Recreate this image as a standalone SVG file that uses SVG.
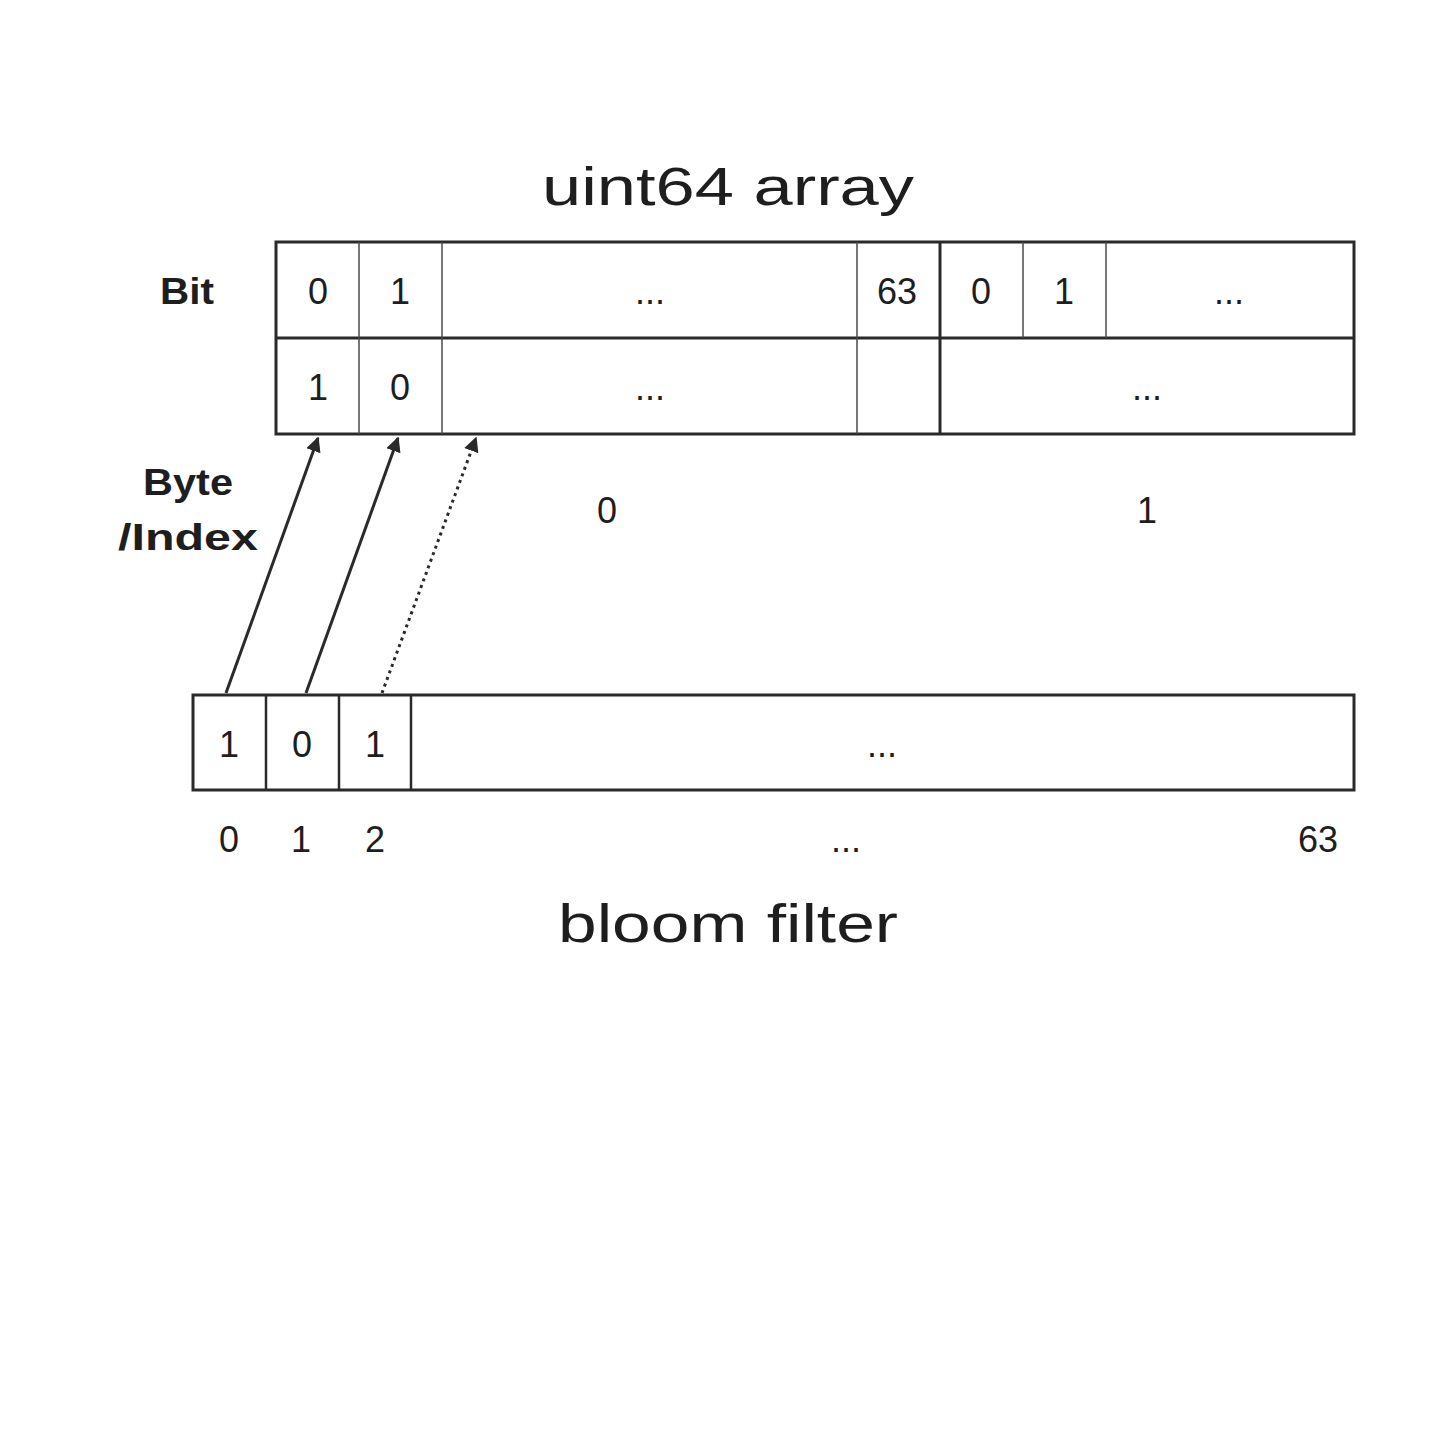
<svg xmlns="http://www.w3.org/2000/svg" width="1456" height="1456" viewBox="0 0 1456 1456">
<defs>
<style>
.t{font-family:"Liberation Sans","Noto Sans",sans-serif;fill:#1e1e1e;text-anchor:middle;}
.n{font-size:36px;}
.b{font-weight:bold;font-size:36px;}
.h{font-size:54px;}
.thick{stroke:#2a2a2a;stroke-width:3;fill:none;}
.thin{stroke:#4a4a4a;stroke-width:1.5;fill:none;}
.mid{stroke:#2a2a2a;stroke-width:2.5;fill:none;}
.arr{stroke:#2a2a2a;stroke-width:3;fill:none;}
</style>
<marker id="ah" viewBox="0 0 10 10" refX="9" refY="5" markerWidth="5" markerHeight="5" orient="auto" markerUnits="strokeWidth">
<path d="M0,0 L10,5 L0,10 z" fill="#2a2a2a"/>
</marker>
</defs>
<rect width="1456" height="1456" fill="#ffffff"/>

<g id="title-top"><text class="t h" x="728" y="205" textLength="372" lengthAdjust="spacingAndGlyphs">uint64 array</text></g>
<g id="label-bit"><text class="t b" x="187" y="304" textLength="54" lengthAdjust="spacingAndGlyphs">Bit</text></g>
<g id="label-byte"><text class="t b" x="188" y="495" textLength="90" lengthAdjust="spacingAndGlyphs">Byte</text><text class="t b" x="188" y="550" textLength="140" lengthAdjust="spacingAndGlyphs">/Index</text></g>

<g id="uint64-array">
<rect class="thick" x="276" y="242" width="1078" height="192"/>
<line class="thick" x1="276" y1="338" x2="1354" y2="338"/>
<line class="thin" x1="359" y1="242" x2="359" y2="434"/>
<line class="thin" x1="442" y1="242" x2="442" y2="434"/>
<line class="thin" x1="857" y1="242" x2="857" y2="434"/>
<line class="thick" x1="940" y1="242" x2="940" y2="434"/>
<line class="thin" x1="1023" y1="242" x2="1023" y2="338"/>
<line class="thin" x1="1106" y1="242" x2="1106" y2="338"/>
<text class="t n" x="318" y="304">0</text>
<text class="t n" x="400" y="304">1</text>
<text class="t n" x="650" y="304">...</text>
<text class="t n" x="897" y="304">63</text>
<text class="t n" x="981" y="304">0</text>
<text class="t n" x="1064" y="304">1</text>
<text class="t n" x="1229" y="304">...</text>
<text class="t n" x="318" y="400">1</text>
<text class="t n" x="400" y="400">0</text>
<text class="t n" x="650" y="400">...</text>
<text class="t n" x="1147" y="400">...</text>
</g>

<g id="word-index">
<text class="t n" x="607" y="523">0</text>
<text class="t n" x="1147" y="523">1</text>
</g>

<g id="connectors">
<line class="arr" x1="226" y1="693" x2="318" y2="438" marker-end="url(#ah)"/>
<line class="arr" x1="306" y1="693" x2="398" y2="438" marker-end="url(#ah)"/>
<line class="arr" x1="382" y1="693" x2="476" y2="438" stroke-dasharray="3 4" marker-end="url(#ah)"/>
</g>

<g id="bloom-filter">
<rect class="thick" x="193" y="695" width="1161" height="95"/>
<line class="mid" x1="266" y1="695" x2="266" y2="790"/>
<line class="mid" x1="339" y1="695" x2="339" y2="790"/>
<line class="mid" x1="411" y1="695" x2="411" y2="790"/>
<text class="t n" x="229" y="757">1</text>
<text class="t n" x="302" y="757">0</text>
<text class="t n" x="375" y="757">1</text>
<text class="t n" x="882" y="757">...</text>
</g>

<g id="bloom-index">
<text class="t n" x="229" y="852">0</text>
<text class="t n" x="301" y="852">1</text>
<text class="t n" x="375" y="852">2</text>
<text class="t n" x="846" y="852">...</text>
<text class="t n" x="1318" y="852">63</text>
</g>

<g id="title-bottom"><text class="t h" x="728" y="942" textLength="340" lengthAdjust="spacingAndGlyphs">bloom filter</text></g>
</svg>
